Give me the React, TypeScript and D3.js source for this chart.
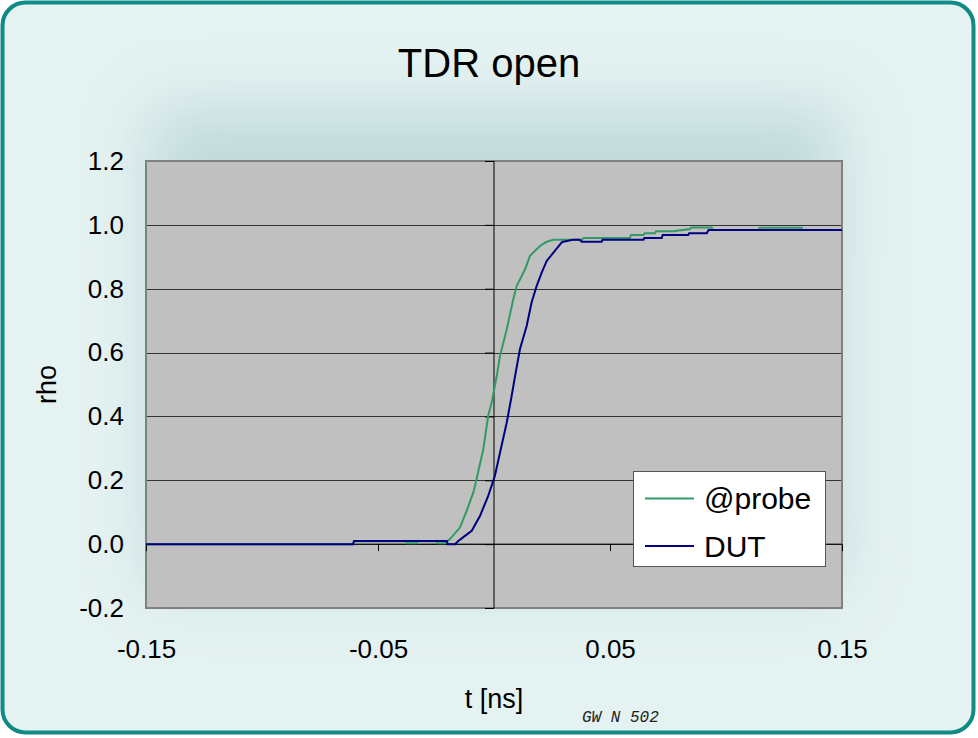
import React, { useEffect, useRef } from 'react';
import * as d3 from 'd3';

const WIDTH = 978;
const HEIGHT = 738;
const PLOT = { left: 146, right: 842, top: 161, bottom: 608 };

// @probe series (t in ns, rho)
const probeT = [-0.15, -0.0608, -0.0603, -0.0378, -0.0374, -0.0334, -0.033, -0.0248, -0.0244, -0.0211, -0.019, -0.0147, -0.0118, -0.0089, -0.0075, -0.0046, -0.0025, -0.001, 0.0012, 0.0026, 0.0055, 0.0083, 0.0098, 0.0134, 0.0155, 0.0198, 0.0227, 0.0256, 0.038, 0.0385, 0.0586, 0.059, 0.0644, 0.065, 0.0694, 0.0698, 0.0773, 0.0845, 0.0849, 0.0938, 0.0945, 0.114, 0.1145, 0.1326, 0.133, 0.15];
const probeRho = [0, 0, 0.009, 0.009, 0.003, 0.003, 0.009, 0.009, 0.003, 0.003, 0.016, 0.052, 0.104, 0.162, 0.204, 0.298, 0.402, 0.444, 0.527, 0.59, 0.673, 0.767, 0.809, 0.861, 0.903, 0.934, 0.947, 0.953, 0.953, 0.959, 0.959, 0.968, 0.968, 0.974, 0.974, 0.98, 0.98, 0.987, 0.992, 0.992, 0.984, 0.984, 0.991, 0.991, 0.984, 0.984];

// DUT series
const dutT = [-0.15, -0.0608, -0.0603, -0.0203, -0.02, -0.0168, -0.0154, -0.0125, -0.0096, -0.006, -0.0025, 0.0004, 0.0026, 0.0055, 0.0076, 0.0091, 0.0112, 0.0141, 0.0162, 0.0184, 0.0206, 0.0227, 0.0263, 0.0292, 0.0299, 0.034, 0.037, 0.0378, 0.0464, 0.0468, 0.0644, 0.0648, 0.0723, 0.0727, 0.0837, 0.0841, 0.0917, 0.0925, 0.15];
const dutRho = [0, 0, 0.01, 0.01, 0, 0, 0.01, 0.026, 0.042, 0.089, 0.151, 0.214, 0.287, 0.381, 0.464, 0.527, 0.611, 0.684, 0.757, 0.809, 0.851, 0.887, 0.919, 0.945, 0.947, 0.953, 0.953, 0.947, 0.947, 0.953, 0.953, 0.959, 0.959, 0.968, 0.968, 0.974, 0.974, 0.984, 0.984];

const yTicks = [-0.2, 0, 0.2, 0.4, 0.6, 0.8, 1.0, 1.2];
const xLabelTicks = [-0.15, -0.05, 0.05, 0.15];
const xMinorTicks = [-0.15, -0.05, 0.05, 0.15];

const seriesNames = ['@probe', 'DUT'];
const seriesColors = ['#339966', '#000080'];

const App = () => {
    const yLabelRef = useRef(null);
    const xLabelRef = useRef(null);
    const yAxisRef = useRef(null);
    const xAxisRef = useRef(null);

    const xScale = d3.scaleLinear().domain([-0.15, 0.15]).range([PLOT.left, PLOT.right]);
    const yScale = d3.scaleLinear().domain([-0.2, 1.2]).range([PLOT.bottom, PLOT.top]);

    const line = d3.line<[number, number]>()
        .x(d => xScale(d[0]))
        .y(d => yScale(d[1]));

    const probePts = probeT.map((t, i) => [t, probeRho[i]] as [number, number]);
    const dutPts = dutT.map((t, i) => [t, dutRho[i]] as [number, number]);

    useEffect(() => {
        const fmt = (d: number) => d.toFixed(1);
        d3.select(yLabelRef.current)
            .call(d3.axisLeft(yScale).tickValues(yTicks).tickSize(0).tickPadding(22).tickFormat(fmt as any))
            .call(g => g.select('.domain').remove())
            .call(g => g.selectAll('text')
                .attr('font-family', 'Liberation Sans, Arial, sans-serif')
                .attr('font-size', 26)
                .attr('fill', '#000'));

        d3.select(xLabelRef.current)
            .call(d3.axisBottom(xScale).tickValues(xLabelTicks).tickSize(0).tickPadding(32).tickFormat(((d: number) => d.toFixed(2)) as any))
            .call(g => g.select('.domain').remove())
            .call(g => g.selectAll('text')
                .attr('font-family', 'Liberation Sans, Arial, sans-serif')
                .attr('font-size', 26)
                .attr('fill', '#000'));

        d3.select(yAxisRef.current)
            .call(d3.axisLeft(yScale).tickValues(yTicks).tickSize(9).tickFormat(() => ''))
            .call(g => g.select('.domain').attr('stroke', '#000').attr('d', `M0,${PLOT.top}V${PLOT.bottom}`))
            .call(g => g.selectAll('line').attr('stroke', '#000'));

        d3.select(xAxisRef.current)
            .call(d3.axisBottom(xScale).tickValues(xMinorTicks).tickSize(7).tickFormat(() => ''))
            .call(g => g.select('.domain').attr('stroke', '#000').attr('d', `M${PLOT.left},0H${PLOT.right}`))
            .call(g => g.selectAll('line').attr('stroke', '#000'));
    }, []);

    const legend = { x: 633.5, y: 471.5, w: 192, h: 95 };

    return (
        <svg width={WIDTH} height={HEIGHT} style={{ display: 'block' }}>
            <style>{'body{margin:0}'}</style>
            <defs>
                <filter id="glow" x="-30%" y="-30%" width="160%" height="160%">
                    <feGaussianBlur stdDeviation="32" />
                </filter>
                <clipPath id="panelClip">
                    <rect x={3} y={3} width={970} height={729} rx={22} />
                </clipPath>
            </defs>

            <rect x={0} y={0} width={WIDTH} height={HEIGHT} fill="#ffffff" />
            <rect x={2.5} y={2.5} width={971} height={730} rx={23} fill="#e5f2f2" />
            <g clipPath="url(#panelClip)">
                <rect x={150} y={108} width={690} height={480} fill="#aacbcb" opacity={0.6} filter="url(#glow)" />
            </g>
            <rect x={2.5} y={2.5} width={971} height={730} rx={23} fill="none" stroke="#0f8a84" strokeWidth={4} />

            <text x={489} y={77} textAnchor="middle" fontFamily="Liberation Sans, Arial, sans-serif" fontSize={40} fill="#000">TDR open</text>

            {/* plot area */}
            <rect x={PLOT.left} y={PLOT.top} width={PLOT.right - PLOT.left} height={PLOT.bottom - PLOT.top} fill="#c0c0c0" />
            {yTicks.filter(v => v > -0.2 && v < 1.2).map(v => (
                <line key={v} x1={PLOT.left} x2={PLOT.right} y1={Math.round(yScale(v)) + 0.5} y2={Math.round(yScale(v)) + 0.5} stroke="#333" strokeWidth={1} />
            ))}
            <rect x={PLOT.left} y={PLOT.top} width={PLOT.right - PLOT.left} height={PLOT.bottom - PLOT.top} fill="none" stroke="#808080" strokeWidth={2} />

            <g ref={yAxisRef} transform={`translate(${xScale(0)},0)`} />
            <g ref={xAxisRef} transform={`translate(0,${yScale(0)})`} />

            <path d={line(probePts) || ''} fill="none" stroke={seriesColors[0]} strokeWidth={2} />
            <path d={line(dutPts) || ''} fill="none" stroke={seriesColors[1]} strokeWidth={2} />

            <g ref={yLabelRef} transform={`translate(${PLOT.left},0)`} />
            <g ref={xLabelRef} transform={`translate(0,${PLOT.bottom})`} />

            <text transform={`translate(56,${(PLOT.top + PLOT.bottom) / 2}) rotate(-90)`} textAnchor="middle" fontFamily="Liberation Sans, Arial, sans-serif" fontSize={27} fill="#000">rho</text>
            <text x={494} y={708} textAnchor="middle" fontFamily="Liberation Sans, Arial, sans-serif" fontSize={27} fill="#000">t [ns]</text>
            <text x={582} y={722} fontFamily="Liberation Mono, Courier New, monospace" fontStyle="italic" fontSize={16} fill="#222">GW N 502</text>

            {/* legend */}
            <rect x={legend.x} y={legend.y} width={legend.w} height={legend.h} fill="#fff" stroke="#555" strokeWidth={1} />
            {seriesNames.map((name, i) => (
                <g key={name}>
                    <line x1={645} x2={694} y1={498.5 + i * 47.5} y2={498.5 + i * 47.5} stroke={seriesColors[i]} strokeWidth={2} />
                    <text x={704} y={509 + i * 47.5} fontFamily="Liberation Sans, Arial, sans-serif" fontSize={30} fill="#000">{name}</text>
                </g>
            ))}
        </svg>
    );
};

export default App;
